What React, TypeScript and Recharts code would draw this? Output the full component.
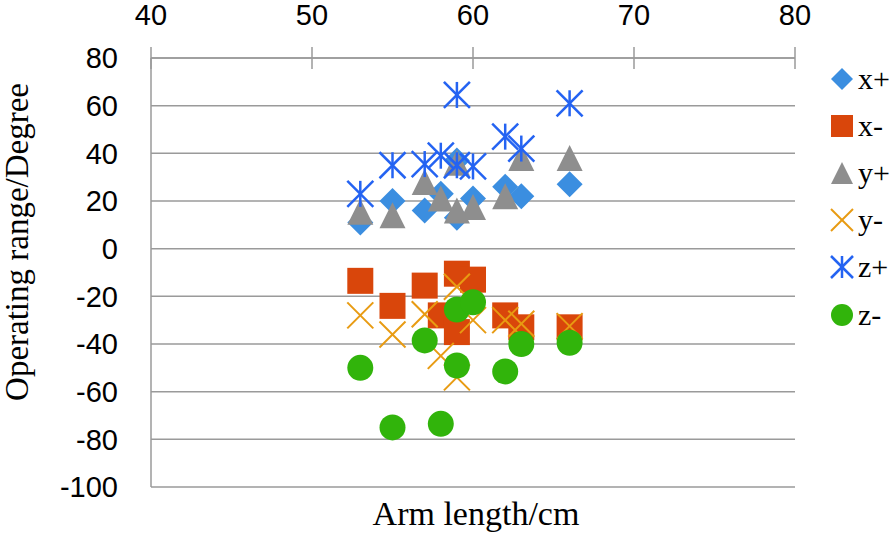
import { ScatterChart, Scatter, XAxis, YAxis, CartesianGrid, Legend } from "recharts";

// arm length (cm) shared by all six series
const armLength = [53, 55, 57, 58, 59, 59, 60, 62, 63, 66];

const xPlus = [11, 20, 16, 23, 13, 37, 21, 26, 22, 27];
const xMinus = [-13.5, -24, -15.5, -28, -10.5, -35, -13, -28, -33, -33];
const yPlus = [15.5, 14, 28, 21, 36, 16, 17.5, 22, 38, 38];
const yMinus = [-28, -36, -27.5, -45, -16, -54, -30, -30, -31.5, -32.5];
const zPlus = [23, 35, 35.5, 39, 64.5, 35, 34.5, 47, 42, 61];
const zMinus = [-50, -75, -38.5, -73.5, -25.5, -49, -22.5, -51.5, -40, -39.5];

const xTicks = [40, 50, 60, 70, 80];
const yTicks = [-100, -80, -60, -40, -20, 0, 20, 40, 60, 80];

type Kind = "diamond" | "square" | "triangle" | "x" | "star" | "circle";

const series: { name: string; values: number[]; kind: Kind; color: string }[] = [
  { name: "x+", values: xPlus, kind: "diamond", color: "#3B8EE0" },
  { name: "x-", values: xMinus, kind: "square", color: "#D9460B" },
  { name: "y+", values: yPlus, kind: "triangle", color: "#8E8E8E" },
  { name: "y-", values: yMinus, kind: "x", color: "#E89B12" },
  { name: "z+", values: zPlus, kind: "star", color: "#2463F2" },
  { name: "z-", values: zMinus, kind: "circle", color: "#31B40B" },
];

const AXIS = "#9A9A9A";
const SANS = "'Liberation Sans', Arial, sans-serif";
const SERIF = "'Liberation Serif', 'Times New Roman', serif";

function marker(kind: Kind, color: string, cx: number, cy: number, r = 13) {
  switch (kind) {
    case "diamond":
      return <polygon points={`${cx},${cy - r} ${cx + r},${cy} ${cx},${cy + r} ${cx - r},${cy}`} fill={color} />;
    case "square":
      return <rect x={cx - r} y={cy - r} width={2 * r} height={2 * r} fill={color} />;
    case "triangle":
      return <polygon points={`${cx},${cy - r} ${cx + r},${cy + r} ${cx - r},${cy + r}`} fill={color} />;
    case "x":
      return (
        <g stroke={color} strokeWidth={2}>
          <line x1={cx - r} y1={cy - r} x2={cx + r} y2={cy + r} />
          <line x1={cx - r} y1={cy + r} x2={cx + r} y2={cy - r} />
        </g>
      );
    case "star":
      return (
        <g stroke={color} strokeWidth={2.5}>
          <line x1={cx - r} y1={cy - r} x2={cx + r} y2={cy + r} />
          <line x1={cx - r} y1={cy + r} x2={cx + r} y2={cy - r} />
          <line x1={cx} y1={cy - r} x2={cx} y2={cy + r} />
        </g>
      );
    default:
      return <circle cx={cx} cy={cy} r={r} fill={color} />;
  }
}

function TopTick(props: any) {
  const { x, y, payload } = props;
  return (
    <g>
      <line x1={x} x2={x} y1={y - 11} y2={y + 11} stroke={AXIS} strokeWidth={1.5} />
      <text x={x} y={y - 33} textAnchor="middle" fontFamily={SANS} fontSize={29} fill="#000">
        {payload.value}
      </text>
    </g>
  );
}

function LegendBox() {
  return (
    <div>
      {series.map((s) => (
        <div key={s.name} style={{ display: "flex", alignItems: "center", height: 47.2 }}>
          <svg width={30} height={30}>
            {marker(s.kind, s.color, 15, 15, 11)}
          </svg>
          <span style={{ fontFamily: SERIF, fontSize: 30, color: "#000", marginLeft: 1, lineHeight: "30px" }}>
            {s.name}
          </span>
        </div>
      ))}
    </div>
  );
}

export default function App() {
  return (
    <div style={{ position: "absolute", left: 0, top: 0, background: "#fff" }}>
      <ScatterChart width={894} height={533} margin={{ top: 0, right: 32, bottom: 46, left: 0 }}>
        <CartesianGrid horizontal vertical={false} stroke={AXIS} strokeWidth={1.5} />
        <XAxis
          type="number"
          dataKey="x"
          orientation="top"
          domain={[40, 80]}
          ticks={xTicks}
          height={58}
          tickSize={0}
          tickMargin={0}
          axisLine={{ stroke: AXIS, strokeWidth: 1.5 }}
          tickLine={false}
          tick={<TopTick />}
          interval={0}
        />
        <YAxis
          type="number"
          dataKey="y"
          domain={[-100, 80]}
          ticks={yTicks}
          width={151}
          tickSize={0}
          tickMargin={33}
          axisLine={{ stroke: AXIS, strokeWidth: 1.5 }}
          tickLine={false}
          tick={{ fontFamily: SANS, fontSize: 29, fill: "#000" }}
          interval={0}
        />
        <Legend
          layout="vertical"
          verticalAlign="top"
          align="right"
          content={<LegendBox />}
          wrapperStyle={{ left: 827, top: 55, width: 67 }}
        />
        {series.map((s) => (
          <Scatter
            key={s.name}
            name={s.name}
            data={armLength.map((x, i) => ({ x, y: s.values[i] }))}
            fill={s.color}
            isAnimationActive={false}
            shape={(p: any) => marker(s.kind, s.color, p.cx, p.cy)}
          />
        ))}
        <text x={476} y={525} textAnchor="middle" fontFamily={SERIF} fontSize={34} fill="#000">
          Arm length/cm
        </text>
        <text
          x={28}
          y={242}
          textAnchor="middle"
          fontFamily={SERIF}
          fontSize={33}
          fill="#000"
          transform="rotate(-90, 28, 242)"
        >
          Operating range/Degree
        </text>
      </ScatterChart>
    </div>
  );
}
